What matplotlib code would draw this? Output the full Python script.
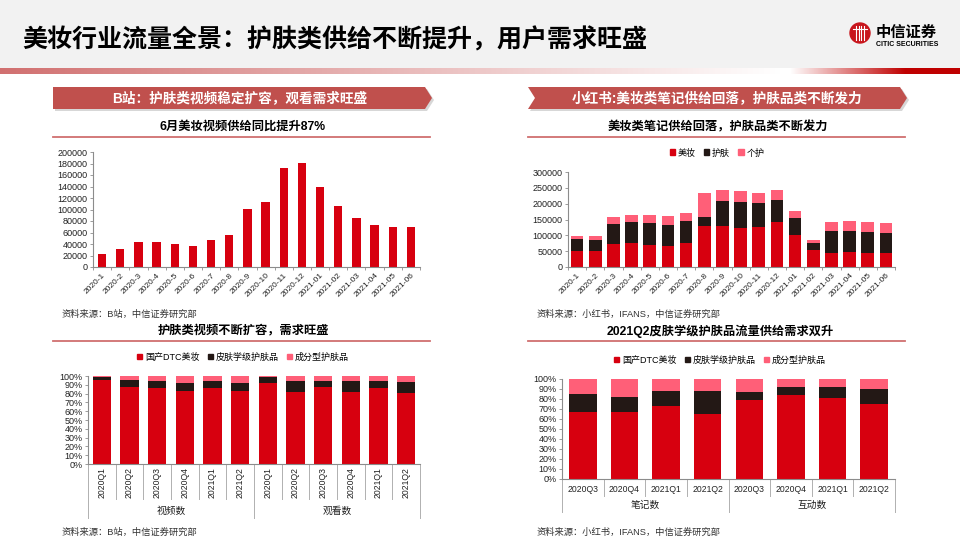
import matplotlib.pyplot as plt
import numpy as np
from matplotlib.patches import Polygon, Rectangle, Circle, Patch
from matplotlib.transforms import blended_transform_factory
from matplotlib.ticker import FuncFormatter

plt.rcParams['font.family'] = ['Liberation Sans', 'Noto Sans CJK SC']
plt.rcParams['axes.unicode_minus'] = False

RED = '#d7000f'
DARK = '#231815'
PINK = '#ff5f78'
BANNER = '#c0504d'
AXC = '#8c8c8c'

# ---- data ----
months = ['2020-1', '2020-2', '2020-3', '2020-4', '2020-5', '2020-6', '2020-7', '2020-8',
          '2020-9', '2020-10', '2020-11', '2020-12', '2021-01', '2021-02', '2021-03',
          '2021-04', '2021-05', '2021-06']
bili_videos = [23000, 31500, 43000, 43000, 40000, 37000, 47000, 55500, 101000, 113500,
               171500, 181000, 140000, 106500, 84500, 73000, 70000, 69000]

xhs_makeup = [52000, 50000, 74000, 75000, 70000, 65000, 76000, 129000, 129000, 122000,
              125000, 143000, 102000, 55000, 44500, 48000, 45500, 44500]
xhs_skin = [35000, 36000, 62000, 68000, 69000, 67000, 68000, 29000, 81000, 82000,
            76000, 69000, 52000, 21000, 68000, 66000, 65000, 62500]
xhs_personal = [12000, 11000, 22000, 20000, 26000, 28000, 26000, 75000, 34000, 35000,
                34000, 32000, 23000, 9000, 31000, 30000, 32000, 33000]

quarters_bl = ['2020Q1', '2020Q2', '2020Q3', '2020Q4', '2021Q1', '2021Q2'] * 2
groups_bl = ['视频数', '观看数']
bl_dtc = [95, 87.5, 86, 83, 86, 83, 92.5, 82, 87, 82, 86, 81]
bl_derm = [4, 8.5, 8, 9.5, 8.5, 9, 6.5, 12.5, 7, 12, 8, 12]
bl_ingr = [1, 4, 6, 7.5, 5.5, 8, 1, 5.5, 6, 6, 6, 7]

quarters_br = ['2020Q3', '2020Q4', '2021Q1', '2021Q2'] * 2
groups_br = ['笔记数', '互动数']
br_dtc = [67.5, 67, 73, 65, 79.5, 84, 81, 75]
br_derm = [17.5, 15.5, 15, 23, 7.5, 8, 11, 15.5]
br_ingr = [15, 17.5, 12, 12, 13, 8, 8, 9.5]

legend_mix = ['国产DTC美妆', '皮肤学级护肤品', '成分型护肤品']
legend_xhs = ['美妆', '护肤', '个护']

W, H = 960, 540
fig = plt.figure(figsize=(9.6, 5.4), dpi=100)


def box(x0, y0, x1, y1):
    return [x0 / W, 1 - y1 / H, (x1 - x0) / W, (y1 - y0) / H]


bg = fig.add_axes([0, 0, 1, 1], zorder=0)
bg.set_xlim(0, W)
bg.set_ylim(H, 0)
bg.axis('off')

# header
bg.add_patch(Rectangle((0, 0), W, 68, color='#f2f2f2', lw=0))
grad = np.ones((1, W, 3))
for i in range(W):
    if i < 780:
        t = i / 780
        grad[0, i] = np.array([0.82, 0.44, 0.44]) * (1 - t) + np.array([1, 1, 1]) * t
    elif i < 790:
        grad[0, i] = [1, 1, 1]
    elif i < 905:
        t = (i - 790) / 115
        grad[0, i] = np.array([1, 1, 1]) * (1 - t) + np.array([0.75, 0, 0]) * t
    else:
        grad[0, i] = [0.75, 0, 0]
bg.imshow(grad, extent=[0, W, 74, 68], aspect='auto', zorder=1)
bg.set_xlim(0, W)
bg.set_ylim(H, 0)
bg.text(22, 40, '美妆行业流量全景：护肤类供给不断提升，用户需求旺盛', fontsize=18, fontweight='bold',
        family=['Noto Sans CJK SC'], va='center', ha='left', color='black')

# logo
bg.add_patch(Circle((860, 33), 10, color='#c8161d', zorder=2))
for dx in (-4, -1.3, 1.3, 4):
    bg.plot([860 + dx, 860 + dx], [26, 40], color='white', lw=0.8, zorder=3)
bg.plot([853, 867], [29, 29], color='white', lw=0.8, zorder=3)
bg.text(876, 32, '中信证券', fontsize=11, fontweight='bold', family=['Noto Sans CJK SC'],
        va='center', ha='left')
bg.text(876, 45, 'CITIC SECURITIES', fontsize=5, fontweight='bold', va='center', ha='left')


def banner(pts, text, cx):
    sh = [(x + 2, y + 2) for x, y in pts]
    bg.add_patch(Polygon(sh, closed=True, color='#b0b0b0', alpha=0.5, lw=0, zorder=1))
    bg.add_patch(Polygon(pts, closed=True, color=BANNER, lw=0, zorder=2))
    bg.text(cx, 98, text, color='white', fontsize=9.8, fontweight='bold', ha='center',
            va='center', zorder=3)


banner([(53, 87), (425, 87), (432, 98), (425, 109), (53, 109)],
       'B站：护肤类视频稳定扩容，观看需求旺盛', 240)
banner([(528, 87), (900, 87), (907, 98), (900, 109), (528, 109), (535, 98)],
       '小红书:美妆类笔记供给回落，护肤品类不断发力', 717)


def subtitle(cx, y, text, x0, x1, ly):
    bg.text(cx, y, text, fontsize=8.8, fontweight='bold', ha='center', va='center')
    bg.plot([x0, x1], [ly, ly], color='#d07070', lw=1.3)


subtitle(243, 127, '6月美妆视频供给同比提升87%', 53, 430, 137)
subtitle(718, 127, '美妆类笔记供给回落，护肤品类不断发力', 528, 905, 137)
subtitle(243, 331, '护肤类视频不断扩容，需求旺盛', 53, 430, 341)
subtitle(720, 331, '2021Q2皮肤学级护肤品流量供给需求双升', 528, 905, 341)

src_kw = dict(fontsize=6.7, va='center', color='#333333')
bg.text(62, 314, '资料来源：B站，中信证券研究部', **src_kw)
bg.text(537, 314, '资料来源：小红书，IFANS，中信证券研究部', **src_kw)
bg.text(62, 532, '资料来源：B站，中信证券研究部', **src_kw)
bg.text(537, 532, '资料来源：小红书，IFANS，中信证券研究部', **src_kw)


def style(ax):
    for s in ('top', 'right'):
        ax.spines[s].set_visible(False)
    for s in ('left', 'bottom'):
        ax.spines[s].set_color(AXC)
        ax.spines[s].set_linewidth(0.8)
    ax.tick_params(axis='y', labelsize=6.5, length=2.5, width=0.6, color=AXC, pad=1.5,
                   labelcolor='#222222')
    ax.tick_params(axis='x', length=0, labelsize=6, labelcolor='#222222')
    ax.set_facecolor('none')


# ---- top left ----
ax1 = fig.add_axes(box(93, 152, 420, 267), zorder=2)
x = np.arange(len(months))
ax1.bar(x, bili_videos, width=0.45, color=RED)
ax1.set_xlim(-0.5, len(months) - 0.5)
ax1.set_ylim(0, 200000)
ax1.set_yticks(range(0, 200001, 20000))
ax1.set_xticks(x)
ax1.set_xticklabels(months, rotation=45, ha='right', rotation_mode='anchor')
ax1.set_xticks(np.arange(-0.5, len(months)), minor=True)
ax1.tick_params(axis='x', which='minor', length=2.5, width=0.6, color=AXC)
style(ax1)

# ---- top right ----
ax2 = fig.add_axes(box(568, 172, 895, 267), zorder=2)
b1 = np.array(xhs_makeup)
b2 = np.array(xhs_skin)
ax2.bar(x, b1, width=0.7, color=RED)
ax2.bar(x, b2, width=0.7, bottom=b1, color=DARK)
ax2.bar(x, xhs_personal, width=0.7, bottom=b1 + b2, color=PINK)
ax2.set_xlim(-0.5, len(months) - 0.5)
ax2.set_ylim(0, 300000)
ax2.set_yticks(range(0, 300001, 50000))
ax2.set_xticks(x)
ax2.set_xticklabels(months, rotation=45, ha='right', rotation_mode='anchor')
ax2.set_xticks(np.arange(-0.5, len(months)), minor=True)
ax2.tick_params(axis='x', which='minor', length=2.5, width=0.6, color=AXC)
style(ax2)

handles3 = [Patch(color=RED), Patch(color=DARK), Patch(color=PINK)]


def legend(labels, cx, cy):
    fig.legend(handles3, labels, loc='center', bbox_to_anchor=(cx / W, 1 - cy / H),
               ncol=3, frameon=False, fontsize=6.5, handlelength=0.6, handleheight=0.6,
               handletextpad=0.3, columnspacing=0.9, borderaxespad=0)


legend(legend_xhs, 717, 153)
legend(legend_mix, 243, 357)
legend(legend_mix, 720, 360)

pct = FuncFormatter(lambda v, p: f'{int(v)}%')


def stacked(ax, a, b, c, cats, groups, ytop_px, cat_y, cat_line, grp_line, grp_y, vertical):
    n = len(cats)
    xs = np.arange(n)
    a = np.array(a)
    b = np.array(b)
    ax.bar(xs, a, width=0.66, color=RED)
    ax.bar(xs, b, width=0.66, bottom=a, color=DARK)
    ax.bar(xs, c, width=0.66, bottom=a + b, color=PINK)
    ax.set_xlim(-0.5, n - 0.5)
    ax.set_ylim(0, 100)
    ax.set_yticks(range(0, 101, 10))
    ax.yaxis.set_major_formatter(pct)
    ax.set_xticks([])
    style(ax)
    tr = blended_transform_factory(ax.transData, bg.transData)
    for i, cat in enumerate(cats):
        ax.text(i, cat_y, cat, transform=tr, fontsize=6.2, ha='center', va='center',
                rotation=90 if vertical else 0, color='#222222', clip_on=False)
    half = n // 2
    for k in range(n + 1):
        xb = k - 0.5
        yend = grp_line if k in (0, half, n) else cat_line
        ax.plot([xb, xb], [ytop_px, yend], transform=tr, color='#b0b0b0', lw=0.7,
                clip_on=False)
    for g, gname in enumerate(groups):
        ax.text(g * half + (half - 1) / 2, grp_y, gname, transform=tr, fontsize=7,
                ha='center', va='center', color='#222222', clip_on=False)


ax3 = fig.add_axes(box(88, 376, 420, 464), zorder=2)
stacked(ax3, bl_dtc, bl_derm, bl_ingr, quarters_bl, groups_bl, 464, 483, 499, 518, 511, True)

ax4 = fig.add_axes(box(562, 379, 895, 479), zorder=2)
stacked(ax4, br_dtc, br_derm, br_ingr, quarters_br, groups_br, 479, 489, 496, 512, 505, False)

fig.savefig('out.png', dpi=100)
